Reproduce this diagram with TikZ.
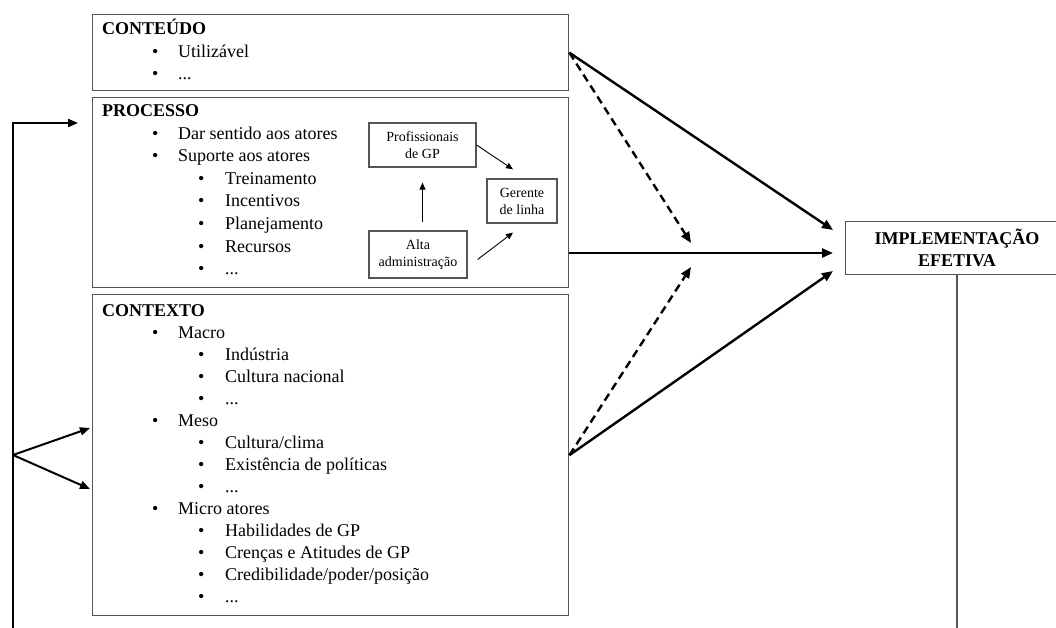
\documentclass[tikz,border=0pt]{standalone}
\usepackage{fontspec}
\setmainfont{Liberation Serif}
\usetikzlibrary{arrows.meta,calc}
\definecolor{boxgray}{HTML}{555555}

% one first-level bullet line: name, baseline, text
\newcommand{\lvlone}[3]{%
  \node[txt] (#1b) at (152,#2) {\textbullet};
  \node[txt] (#1) at (178,#2) {#3};}
% one second-level bullet line
\newcommand{\lvltwo}[3]{%
  \node[txt] (#1b) at (198,#2) {\textbullet};
  \node[txt] (#1) at (225,#2) {#3};}

\begin{document}
\begin{tikzpicture}[x=1pt,y=-1pt,
  frame/.style={draw=boxgray, line width=1.4pt, anchor=north west, inner sep=0pt},
  txt/.style={anchor=base west, inner sep=0pt, font=\fontsize{18}{22}\selectfont},
  head/.style={txt, font=\fontsize{18}{22}\selectfont\bfseries},
  actor/.style={draw=boxgray, line width=1.2pt, inner sep=0pt, align=center,
    font=\fontsize{14}{17}\selectfont},
  bigarrow/.style={line width=2.4pt, -{Triangle[length=11pt,width=9pt]}},
  dasharrow/.style={bigarrow, dash pattern=on 8pt off 5pt},
  smallarrow/.style={line width=0.9pt, -{Triangle[length=7pt,width=6pt]}},
  feedback/.style={line width=2pt, -{Triangle[length=10pt,width=8pt]}}
]
\useasboundingbox (0,0) rectangle (1056,628);
\clip (0,0) rectangle (1056,628);

% ---------- CONTEUDO ----------
\node[frame, minimum width=476pt, minimum height=76pt] (content) at (92,14) {};
\node[head] (contT) at (102,35) {CONTEÚDO};
\lvlone{cont1}{57.5}{Utilizável}
\lvlone{cont2}{80}{...}

% ---------- PROCESSO ----------
\node[frame, minimum width=476pt, minimum height=190pt] (process) at (92,97) {};
\node[head] (procT) at (102,117) {PROCESSO};
\lvlone{proc1}{139.5}{Dar sentido aos atores}
\lvlone{proc2}{162}{Suporte aos atores}
\lvltwo{proc3}{184.5}{Treinamento}
\lvltwo{proc4}{207}{Incentivos}
\lvltwo{proc5}{229.5}{Planejamento}
\lvltwo{proc6}{252}{Recursos}
\lvltwo{proc7}{274.5}{...}

\node[actor, minimum width=107pt, minimum height=44pt] (prof) at (422.5,145) {Profissionais\\de GP};
\node[actor, minimum width=70pt, minimum height=44pt] (ger) at (522,201) {Gerente\\de linha};
\node[actor, minimum width=98pt, minimum height=47pt] (alta) at (418,254.5) {Alta\\administração};

\draw[smallarrow, shorten <=8pt, shorten >=15pt] (prof.south |- alta.north) -- (prof.south);
\draw[smallarrow] (prof.east) -- ([shift={(-9,-9)}]ger.north);
\draw[smallarrow] ([shift={(10,5)}]alta.east) -- ([shift={(-9,9)}]ger.south);

% ---------- CONTEXTO ----------
\node[frame, minimum width=476pt, minimum height=321pt] (context) at (92,294) {};
\node[head] (ctxT) at (102,316) {CONTEXTO};
\lvlone{ctx1}{338}{Macro}
\lvltwo{ctx2}{360}{Indústria}
\lvltwo{ctx3}{382}{Cultura nacional}
\lvltwo{ctx4}{404}{...}
\lvlone{ctx5}{426}{Meso}
\lvltwo{ctx6}{448}{Cultura/clima}
\lvltwo{ctx7}{470}{Existência de políticas}
\lvltwo{ctx8}{492}{...}
\lvlone{ctx9}{514}{Micro atores}
\lvltwo{ctx10}{536}{Habilidades de GP}
\lvltwo{ctx11}{558}{Crenças e Atitudes de GP}
\lvltwo{ctx12}{580}{Credibilidade/poder/posição}
\lvltwo{ctx13}{602}{...}

% ---------- IMPLEMENTACAO EFETIVA ----------
\node[frame, minimum width=224pt, minimum height=53pt] (impl) at (845,221) {};
\node[align=center, inner sep=0pt, font=\fontsize{18}{22}\selectfont\bfseries]
  (implT) at (957,248) {IMPLEMENTAÇÃO\\EFETIVA};

% arrow targets in front of the outcome box
\coordinate (tTop) at (833,230);
\coordinate (tMid) at (833,253);
\coordinate (tLow) at (833,271);
\coordinate (mTop) at (691,243);
\coordinate (mLow) at (691,267);

\draw[bigarrow] (content.east) -- (tTop);
\draw[dasharrow] (content.east) -- (mTop);
\draw[bigarrow] (process.east |- tMid) -- (tMid);
\draw[dasharrow] (context.east) -- (mLow);
\draw[bigarrow] (context.east) -- (tLow);

% ---------- feedback loop ----------
\coordinate (fbBottom) at (13,640);
\coordinate (fbCorner) at (13,123);
\coordinate (fbSplit) at (13,455);
\coordinate (procIn) at (78,123);
\coordinate (ctxIn1) at (90,428);
\coordinate (ctxIn2) at (90,489);
\coordinate (implBottom) at (957,640);

\draw[line width=2pt, draw=boxgray] (impl.south -| implT) -- (implBottom);
\draw[feedback] (fbBottom) -- (fbCorner) -- (procIn);
\draw[feedback] (fbSplit) -- (ctxIn1);
\draw[feedback] (fbSplit) -- (ctxIn2);
\end{tikzpicture}
\end{document}
